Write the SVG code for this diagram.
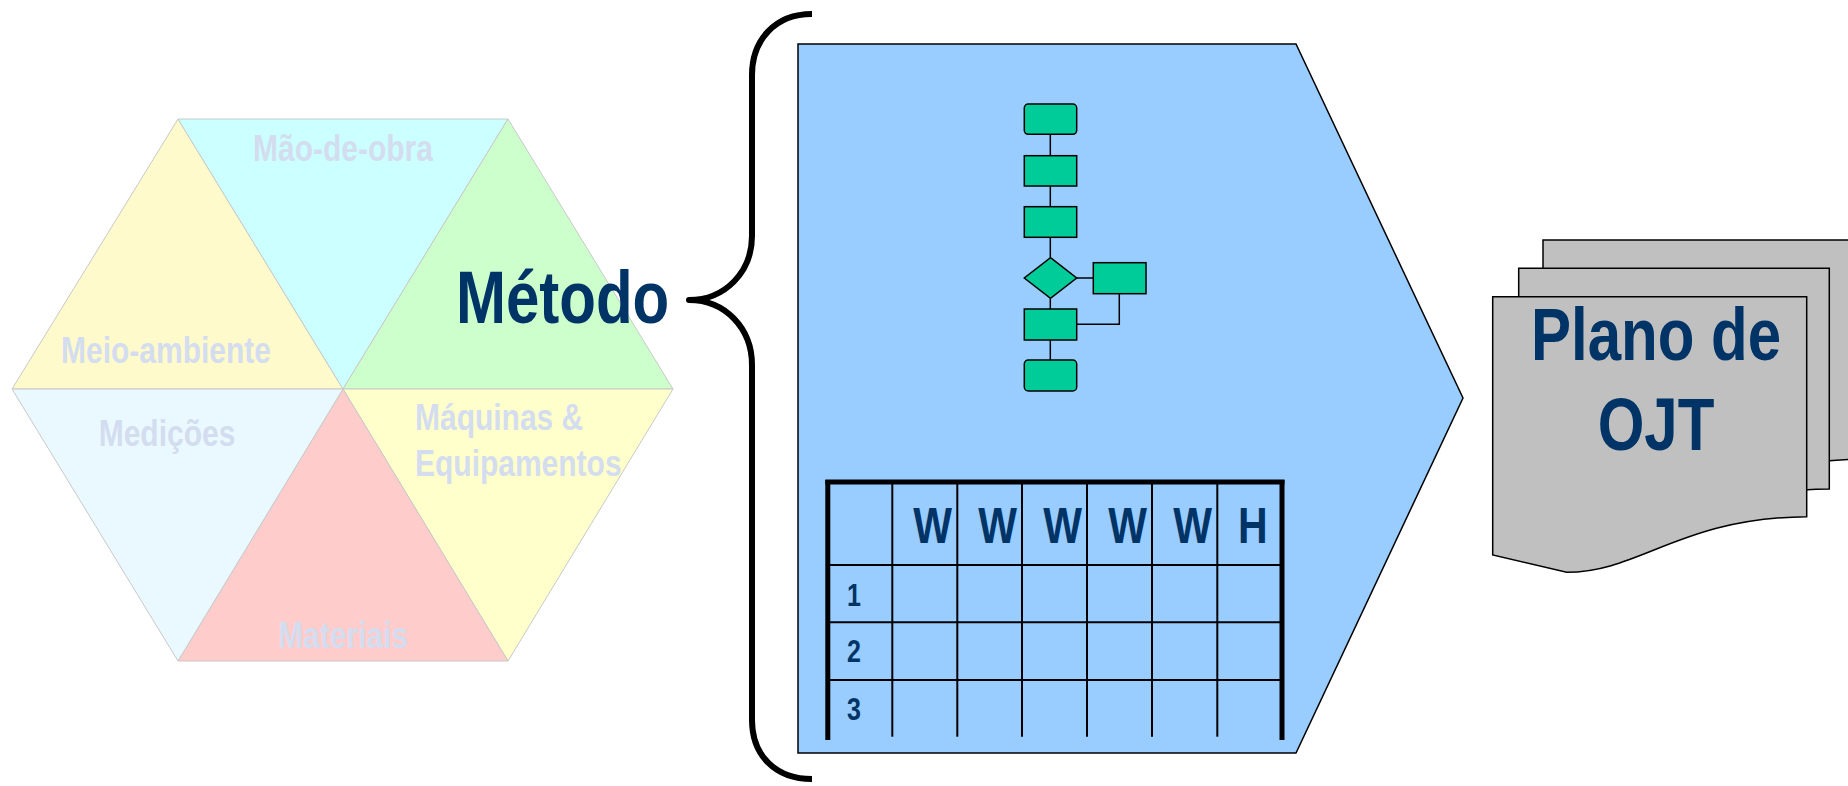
<svg xmlns="http://www.w3.org/2000/svg" width="1848" height="786" viewBox="0 0 1848 786">
<style>
.tri{stroke:#C8C8C8;stroke-width:1}
.lbl{font-family:"Liberation Sans",Arial,sans-serif;font-weight:bold;font-size:30px;fill:#D3DDEF}
.big{font-family:"Liberation Sans",Arial,sans-serif;font-weight:bold;font-size:60px;fill:#003366}
.hdr{font-family:"Liberation Sans",Arial,sans-serif;font-weight:bold;font-size:41px;fill:#003366;text-anchor:middle}
.num{font-family:"Liberation Sans",Arial,sans-serif;font-weight:bold;font-size:25px;fill:#003366;text-anchor:middle}
.fc{fill:#00CC99;stroke:#000;stroke-width:1.5}
.ln{stroke:#000;stroke-width:1.5;fill:none}
.doc{fill:#C0C0C0;stroke:#000;stroke-width:1.5}
.thin{stroke:#000;stroke-width:2}
.thick{stroke:#000;stroke-width:5}
</style>
<rect width="1848" height="786" fill="#FFFFFF"/>

<g id="hexagon">
  <polygon class="tri" fill="#FFFACC" points="12,389 178,119 343,389"/>
  <polygon class="tri" fill="#CCFFFF" points="178,119 508,119 343,389"/>
  <polygon class="tri" fill="#CCFFCC" points="508,119 673,389 343,389"/>
  <polygon class="tri" fill="#FFFFCC" points="673,389 508,661 343,389"/>
  <polygon class="tri" fill="#FFCCCC" points="508,661 178,661 343,389"/>
  <polygon class="tri" fill="#EAF9FF" points="178,661 12,389 343,389"/>
  <text class="lbl" text-anchor="middle" transform="translate(343,161) scale(1,1.23)">Mão-de-obra</text>
  <text class="lbl" text-anchor="middle" transform="translate(166,363) scale(1,1.23)">Meio-ambiente</text>
  <text class="lbl" text-anchor="middle" transform="translate(167,446) scale(1,1.23)">Medições</text>
  <text class="lbl" transform="translate(415,430) scale(1,1.23)">Máquinas &amp;</text>
  <text class="lbl" transform="translate(415,476) scale(1,1.23)">Equipamentos</text>
  <text class="lbl" text-anchor="middle" transform="translate(343,648) scale(1,1.23)">Materiais</text>
</g>

<g id="metodo">
  <text class="big" transform="translate(456,323) scale(1,1.23)">Método</text>
</g>

<g id="brace">
  <path d="M812,14 C775,14 752,40 752,75 L752,236 C752,272 725,300 689,300 C725,300 752,328 752,365 L752,720 C752,755 775,779 812,779" fill="none" stroke="#000" stroke-width="6" stroke-linejoin="round"/>
</g>

<g id="method-panel">
  <path d="M798,44 L1296,44 L1463,398 L1296,753 L798,753 Z" fill="#99CCFF" stroke="#000" stroke-width="1.5"/>
</g>

<g id="connectors">
  <line class="ln" x1="1050.3" y1="134.3" x2="1050.3" y2="155.7"/>
  <line class="ln" x1="1050.3" y1="186" x2="1050.3" y2="206.7"/>
  <line class="ln" x1="1050.3" y1="237.3" x2="1050.3" y2="257.7"/>
  <line class="ln" x1="1050.3" y1="298.3" x2="1050.3" y2="309"/>
  <line class="ln" x1="1050.3" y1="340" x2="1050.3" y2="360"/>
  <line class="ln" x1="1076.7" y1="278" x2="1093.3" y2="278"/>
  <polyline class="ln" points="1119.3,293.7 1119.3,324.3 1076.7,324.3"/>
</g>

<g id="flow-start"><rect class="fc" x="1024.3" y="104" width="52.4" height="30.3" rx="4"/></g>
<g id="flow-step1"><rect class="fc" x="1024.3" y="155.7" width="52.4" height="30.3"/></g>
<g id="flow-step2"><rect class="fc" x="1024.3" y="206.7" width="52.4" height="30.6"/></g>
<g id="flow-decision"><polygon class="fc" points="1050.5,257.7 1076.7,278 1050.5,298.3 1024.3,278"/></g>
<g id="flow-side"><rect class="fc" x="1093.3" y="262.7" width="52.7" height="31"/></g>
<g id="flow-step3"><rect class="fc" x="1024.3" y="309" width="52.4" height="31"/></g>
<g id="flow-end"><rect class="fc" x="1024.3" y="360" width="52.4" height="31" rx="4"/></g>

<g id="table">
  <line class="thin" x1="828" y1="565" x2="1282" y2="565"/>
  <line class="thin" x1="828" y1="622.3" x2="1282" y2="622.3"/>
  <line class="thin" x1="828" y1="680" x2="1282" y2="680"/>
  <line class="thin" x1="892.3" y1="483" x2="892.3" y2="736.7"/>
  <line class="thin" x1="957.3" y1="483" x2="957.3" y2="736.7"/>
  <line class="thin" x1="1022" y1="483" x2="1022" y2="736.7"/>
  <line class="thin" x1="1087" y1="483" x2="1087" y2="736.7"/>
  <line class="thin" x1="1152" y1="483" x2="1152" y2="736.7"/>
  <line class="thin" x1="1217.3" y1="483" x2="1217.3" y2="736.7"/>
  <line class="thick" x1="825.3" y1="482" x2="1284.5" y2="482"/>
  <line class="thick" x1="827.8" y1="480" x2="827.8" y2="740"/>
  <line class="thick" x1="1282" y1="480" x2="1282" y2="740"/>
  <text class="hdr" transform="translate(932.5,543.3) scale(1,1.23)">W</text>
  <text class="hdr" transform="translate(997.5,543.3) scale(1,1.23)">W</text>
  <text class="hdr" transform="translate(1062.5,543.3) scale(1,1.23)">W</text>
  <text class="hdr" transform="translate(1127.5,543.3) scale(1,1.23)">W</text>
  <text class="hdr" transform="translate(1192.5,543.3) scale(1,1.23)">W</text>
  <text class="hdr" transform="translate(1252.7,543.3) scale(1,1.23)">H</text>
  <text class="num" transform="translate(854,605.7) scale(1,1.23)">1</text>
  <text class="num" transform="translate(854,662.3) scale(1,1.23)">2</text>
  <text class="num" transform="translate(854,720) scale(1,1.23)">3</text>
</g>

<g id="doc-back">
  <path class="doc" d="M1543,240 H1860 V459 C1820,460 1780,465 1760,470 L1543,470 Z"/>
</g>
<g id="doc-middle">
  <path class="doc" d="M1518.7,268.3 H1829.3 V489 C1700,490 1660,544 1591,544 L1518.7,527 Z"/>
</g>
<g id="doc-front">
  <path class="doc" d="M1492.7,296.7 H1806.7 V516.7 C1680,518 1640,572.3 1566.7,572.3 L1492.7,555 Z"/>
  <text class="big" text-anchor="middle" transform="translate(1656,360) scale(1,1.23)">Plano de</text>
  <text class="big" text-anchor="middle" transform="translate(1656,450) scale(1,1.23)">OJT</text>
</g>
</svg>
